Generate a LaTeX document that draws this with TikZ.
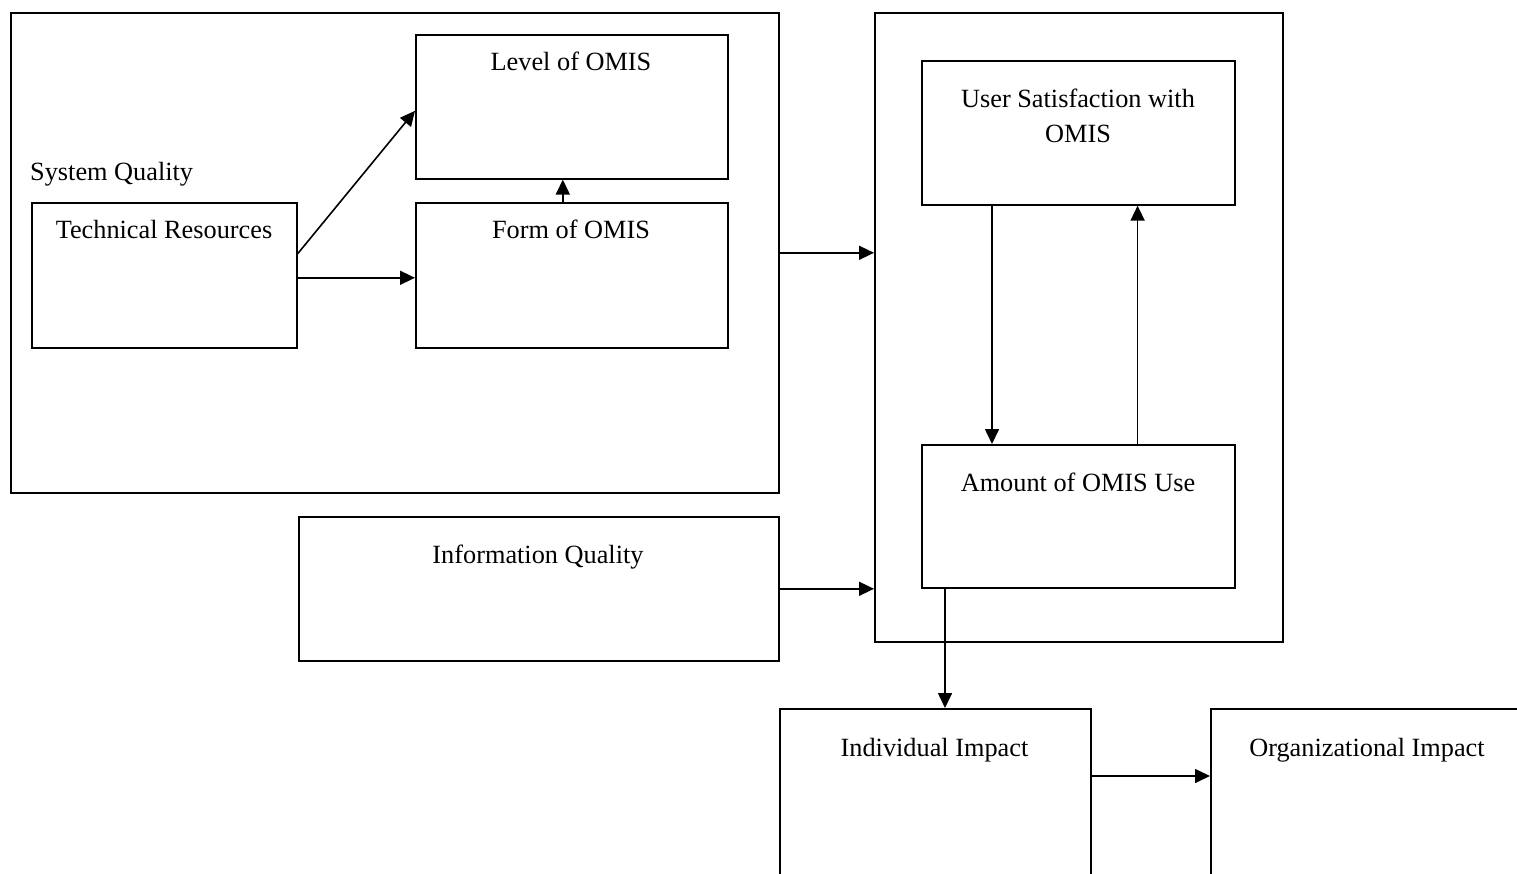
\documentclass[tikz,border=0pt]{standalone}
\usepackage{fontspec}
\setmainfont{Liberation Serif}
\usetikzlibrary{arrows.meta}
\tikzset{
  box/.style={draw, line width=1.6pt, inner sep=0pt, anchor=north west},
  lbl/.style={inner sep=0pt, anchor=base, font=\fontsize{26.3}{35}\selectfont},
  arr/.style={line width=1.6pt, -{Triangle[length=15pt,width=14pt]}},
}
\begin{document}
\begin{tikzpicture}[x=1pt,y=-1pt]
\useasboundingbox (0,0) rectangle (1517,873);
\clip (0,0) rectangle (1517,873);
% boxes
\node[box, minimum width=768pt, minimum height=480pt] (sq) at (10,12) {};
\node[box, minimum width=312pt, minimum height=144pt] (level) at (415,34) {};
\node[box, minimum width=312pt, minimum height=145pt] (form) at (415,202) {};
\node[box, minimum width=265pt, minimum height=145pt] (tech) at (31,202) {};
\node[box, minimum width=408pt, minimum height=629pt] (big) at (874,12) {};
\node[box, minimum width=313pt, minimum height=144pt] (us) at (921,60) {};
\node[box, minimum width=313pt, minimum height=143pt] (amt) at (921,444) {};
\node[box, minimum width=480pt, minimum height=144pt] (info) at (298,516) {};
\node[box, minimum width=311pt, minimum height=220pt] (ind) at (779,708) {};
\node[box, minimum width=314pt, minimum height=220pt] (org) at (1210,708) {};
% labels
\node[lbl, anchor=base west] (tsq) at (30,180) {System Quality};
\node[lbl] (tlevel) at (571,70) {Level of OMIS};
\node[lbl] (tform) at (571,238) {Form of OMIS};
\node[lbl] (ttech) at (164,238) {Technical Resources};
\node[lbl] (tus1) at (1078,107) {User Satisfaction with};
\node[lbl] (tus2) at (1078,142) {OMIS};
\node[lbl] (tamt) at (1078,491) {Amount of OMIS Use};
\node[lbl] (tinfo) at (538,563) {Information Quality};
\node[lbl] (tind) at (934.5,756) {Individual Impact};
\node[lbl] (torg) at (1367,756) {Organizational Impact};
% connectors
\draw[arr] ([yshift=21.5pt]tech.east) -- ([yshift=-4pt]level.west);
\draw[arr] ([yshift=-2.5pt]tech.east) -- ([yshift=-2.5pt]form.west);
\draw[arr] ([xshift=-9pt]form.north) -- ([xshift=-9pt]level.south);
\draw[arr] (sq.east) -- (sq.east -| big.west);
\draw[arr] (info.east) -- (info.east -| big.west);
\draw[arr] ([xshift=71pt]us.south west) -- ([xshift=71pt]amt.north west);
\draw[arr] ([xshift=-98pt]amt.north east) -- ([xshift=-98pt]us.south east);
\draw[arr] ([xshift=24pt]amt.south west) -- ([xshift=24pt]amt.south west |- ind.north);
\draw[arr] ([yshift=-68pt]ind.north east) -- ([yshift=-68pt]ind.north east -| org.west);
\end{tikzpicture}
\end{document}
